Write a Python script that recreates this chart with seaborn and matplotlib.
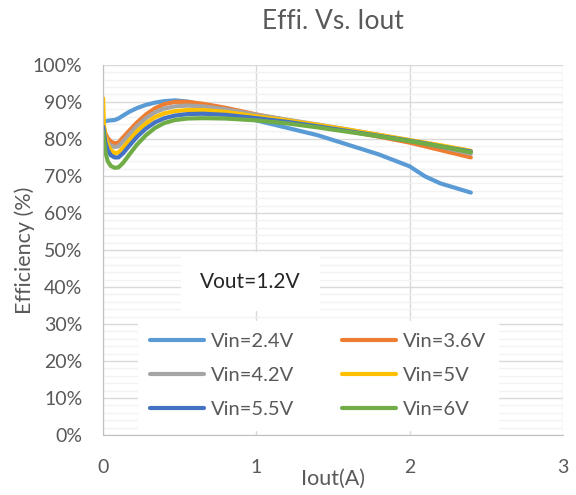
import matplotlib
matplotlib.use("Agg")
import matplotlib.pyplot as plt
from matplotlib.ticker import MultipleLocator, PercentFormatter
import seaborn as sns
import pandas as pd

# --- data ---
iout = [0, 0.005, 0.015, 0.03, 0.05, 0.075, 0.1, 0.13, 0.17, 0.22, 0.28, 0.34, 0.4,
        0.47, 0.55, 0.65, 0.8, 1.0, 1.2, 1.4, 1.6, 1.8, 2.0, 2.1, 2.2, 2.4]

vin_24 = [84.6, 84.7, 84.8, 84.9, 85.0, 85.1, 85.5, 86.3, 87.3, 88.3, 89.2, 89.8, 90.2,
          90.4, 90.1, 89.2, 87.6, 85.0, 83.0, 81.0, 78.4, 75.8, 72.6, 69.9, 68.0, 65.5]
vin_36 = [84.0, 83.0, 81.5, 80.2, 79.3, 78.8, 79.0, 80.4, 82.2, 84.4, 86.6, 88.3, 89.4,
          90.0, 90.0, 89.5, 88.4, 86.6, 85.1, 83.6, 82.1, 80.6, 79.0, 78.0, 77.0, 75.0]
vin_42 = [83.5, 82.4, 80.5, 79.0, 78.2, 77.8, 78.0, 79.3, 81.2, 83.4, 85.6, 87.2, 88.2,
          88.8, 89.0, 88.8, 88.0, 86.5, 85.2, 83.9, 82.5, 81.1, 79.6, 78.8, 77.9, 76.0]
vin_5 = [91.0, 84.0, 80.5, 78.5, 77.0, 76.2, 76.3, 77.6, 79.6, 82.0, 84.2, 85.9, 86.9,
         87.5, 87.8, 87.8, 87.3, 86.1, 85.0, 83.8, 82.5, 81.1, 79.7, 79.0, 78.3, 76.8]
vin_55 = [83.3, 82.0, 79.0, 77.0, 75.6, 75.0, 75.0, 76.1, 78.1, 80.5, 82.8, 84.5, 85.6,
          86.3, 86.7, 86.8, 86.5, 85.6, 84.6, 83.4, 82.1, 80.8, 79.5, 78.8, 78.0, 76.6]
vin_6 = [82.0, 80.0, 76.5, 74.0, 72.7, 72.2, 72.3, 73.5, 75.7, 78.4, 81.0, 83.0, 84.3,
         85.1, 85.5, 85.6, 85.5, 85.0, 84.2, 83.1, 81.9, 80.7, 79.4, 78.7, 78.0, 76.4]

series = {
    "Vin=2.4V": vin_24,
    "Vin=3.6V": vin_36,
    "Vin=4.2V": vin_42,
    "Vin=5V": vin_5,
    "Vin=5.5V": vin_55,
    "Vin=6V": vin_6,
}
colors = ["#5B9BD5", "#ED7D31", "#A5A5A5", "#FFC000", "#4472C4", "#70AD47"]

df = pd.concat(
    [pd.DataFrame({"Iout": iout, "Eff": vals, "Vin": name}) for name, vals in series.items()],
    ignore_index=True,
)

# --- figure ---
sns.set_style("white")
plt.rcParams["font.family"] = ["Lato", "DejaVu Sans"]
text_col = "#595959"

fig = plt.figure(figsize=(5.76, 4.95), dpi=100)
ax = fig.add_axes([0.179, 0.121, 0.798, 0.748])

sns.lineplot(data=df, x="Iout", y="Eff", hue="Vin", palette=colors,
             linewidth=3.0, sort=False, ax=ax, legend=True)

ax.set_xlim(0, 3)
ax.set_ylim(0, 100)
ax.xaxis.set_major_locator(MultipleLocator(1))
ax.yaxis.set_major_locator(MultipleLocator(10))
ax.yaxis.set_minor_locator(MultipleLocator(2))
ax.yaxis.set_major_formatter(PercentFormatter(decimals=0))

ax.grid(which="major", color="#D9D9D9", linewidth=1.0)
ax.grid(which="minor", axis="y", color="#F2F2F2", linewidth=1.0)
ax.set_axisbelow(True)
for side in ["top", "right"]:
    ax.spines[side].set_visible(False)
for side in ["left", "bottom"]:
    ax.spines[side].set_color("#BFBFBF")
ax.tick_params(axis="both", which="both", length=0, labelsize=14, colors=text_col)
ax.tick_params(axis="x", pad=17)
ax.tick_params(axis="y", pad=15)

ax.set_title("Effi. Vs. Iout", fontsize=19, color=text_col, pad=26)
ax.set_xlabel("Iout(A)", fontsize=15.5, color=text_col, labelpad=-5)
ax.set_ylabel("Efficiency (%)", fontsize=15.5, color=text_col, labelpad=-2)

ax.text(0.96, 41.4, "Vout=1.2V", fontsize=15, color="#262626", ha="center", va="center",
        bbox=dict(facecolor="white", edgecolor="none", pad=14))

# legend filled row by row like the reference
handles, labels = ax.get_legend_handles_labels()
order = [0, 2, 4, 1, 3, 5]
leg = ax.legend([handles[i] for i in order], [labels[i] for i in order], ncol=2,
                loc="lower left", bbox_to_anchor=(0.054, -0.014),
                frameon=True, fancybox=False, framealpha=1, edgecolor="white",
                fontsize=14.5, handlelength=2.7, columnspacing=2.4, labelspacing=0.85,
                handletextpad=0.3, borderpad=0.6)
for t in leg.get_texts():
    t.set_color(text_col)

fig.savefig("out.png", dpi=100)
